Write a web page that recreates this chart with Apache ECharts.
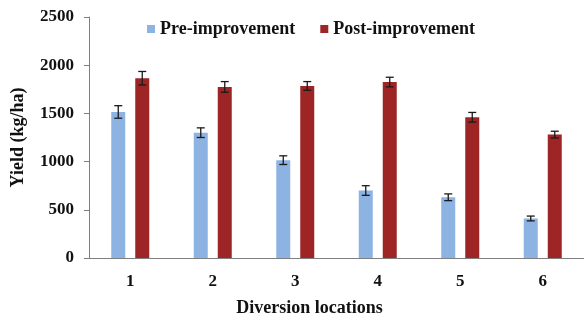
<!DOCTYPE html>
<html>
<head>
<meta charset="utf-8">
<script src="https://cdn.jsdelivr.net/npm/echarts@6/dist/echarts.min.js"></script>
<style>html,body{margin:0;padding:0;background:#fff;overflow:hidden}#c{width:584px;height:322px}</style>
</head>
<body>
<div id="c"></div>
<script>
var categories = ['1', '2', '3', '4', '5', '6'];
var preValues = [1515, 1300, 1015, 700, 630, 410];
var preErr = [65, 50, 45, 50, 35, 25];
var postValues = [1865, 1775, 1785, 1825, 1460, 1280];
var postErr = [70, 55, 45, 50, 50, 35];
var yTicks = [0, 500, 1000, 1500, 2000, 2500];

var FONT = '"Liberation Serif", "Times New Roman", serif';
var BAR_W = 14, BAR_GAP_PX = 10;
var chart = echarts.init(document.getElementById('c'));

function errSeries(values, errs, sign) {
  return {
    type: 'custom',
    silent: true,
    z: 10,
    data: values.map(function (v, i) { return [i, v, errs[i]]; }),
    renderItem: function (params, api) {
      var i = api.value(0), v = api.value(1), e = api.value(2);
      var off = sign * (BAR_W + BAR_GAP_PX) / 2;
      var hi = api.coord([i, v + e]);
      var lo = api.coord([i, v - e]);
      var x = hi[0] + off;
      var cap = 4;
      var st = { stroke: '#1a1a1a', lineWidth: 1.3 };
      return {
        type: 'group',
        children: [
          { type: 'line', shape: { x1: x, y1: hi[1], x2: x, y2: lo[1] }, style: st },
          { type: 'line', shape: { x1: x - cap, y1: hi[1], x2: x + cap, y2: hi[1] }, style: st },
          { type: 'line', shape: { x1: x - cap, y1: lo[1], x2: x + cap, y2: lo[1] }, style: st }
        ]
      };
    }
  };
}

chart.setOption({
  animation: false,
  grid: { left: 89, right: 0, top: 17, bottom: 57, containLabel: false },
  legend: {
    left: 142, top: 15,
    itemWidth: 8, itemHeight: 8, itemGap: 25,
    icon: 'rect',
    textStyle: { fontFamily: FONT, fontWeight: 'bold', fontSize: 18, color: '#111' },
    data: ['Pre-improvement', 'Post-improvement']
  },
  xAxis: {
    type: 'category',
    data: categories,
    name: 'Diversion locations',
    nameLocation: 'middle',
    nameGap: 41,
    nameTextStyle: { fontFamily: FONT, fontWeight: 'bold', fontSize: 18, color: '#111', padding: [0, 54, 0, 0] },
    axisLine: { lineStyle: { color: '#7f7f7f', width: 1 } },
    axisTick: { alignWithLabel: true, length: 5, lineStyle: { color: '#7f7f7f' } },
    axisLabel: { fontFamily: FONT, fontWeight: 'bold', fontSize: 17, color: '#111', margin: 15 }
  },
  yAxis: {
    type: 'value',
    min: yTicks[0], max: yTicks[yTicks.length - 1], interval: 500,
    name: 'Yield (kg/ha)',
    nameLocation: 'middle',
    nameGap: 62,
    nameTextStyle: { fontFamily: FONT, fontWeight: 'bold', fontSize: 18, color: '#111' },
    axisLine: { show: true, lineStyle: { color: '#7f7f7f', width: 1 } },
    axisTick: { show: true, length: 5, lineStyle: { color: '#7f7f7f' } },
    splitLine: { show: false },
    axisLabel: { fontFamily: FONT, fontWeight: 'bold', fontSize: 17, color: '#111', margin: 15,
      formatter: function (v) { return String(v); } }
  },
  series: [
    {
      name: 'Pre-improvement', type: 'bar', data: preValues,
      barWidth: BAR_W, barGap: (BAR_GAP_PX / BAR_W * 100) + '%',
      itemStyle: { color: '#8db3e2' }
    },
    {
      name: 'Post-improvement', type: 'bar', data: postValues,
      barWidth: BAR_W,
      itemStyle: { color: '#9e2526' }
    },
    errSeries(preValues, preErr, -1),
    errSeries(postValues, postErr, 1)
  ]
});
</script>
</body>
</html>
